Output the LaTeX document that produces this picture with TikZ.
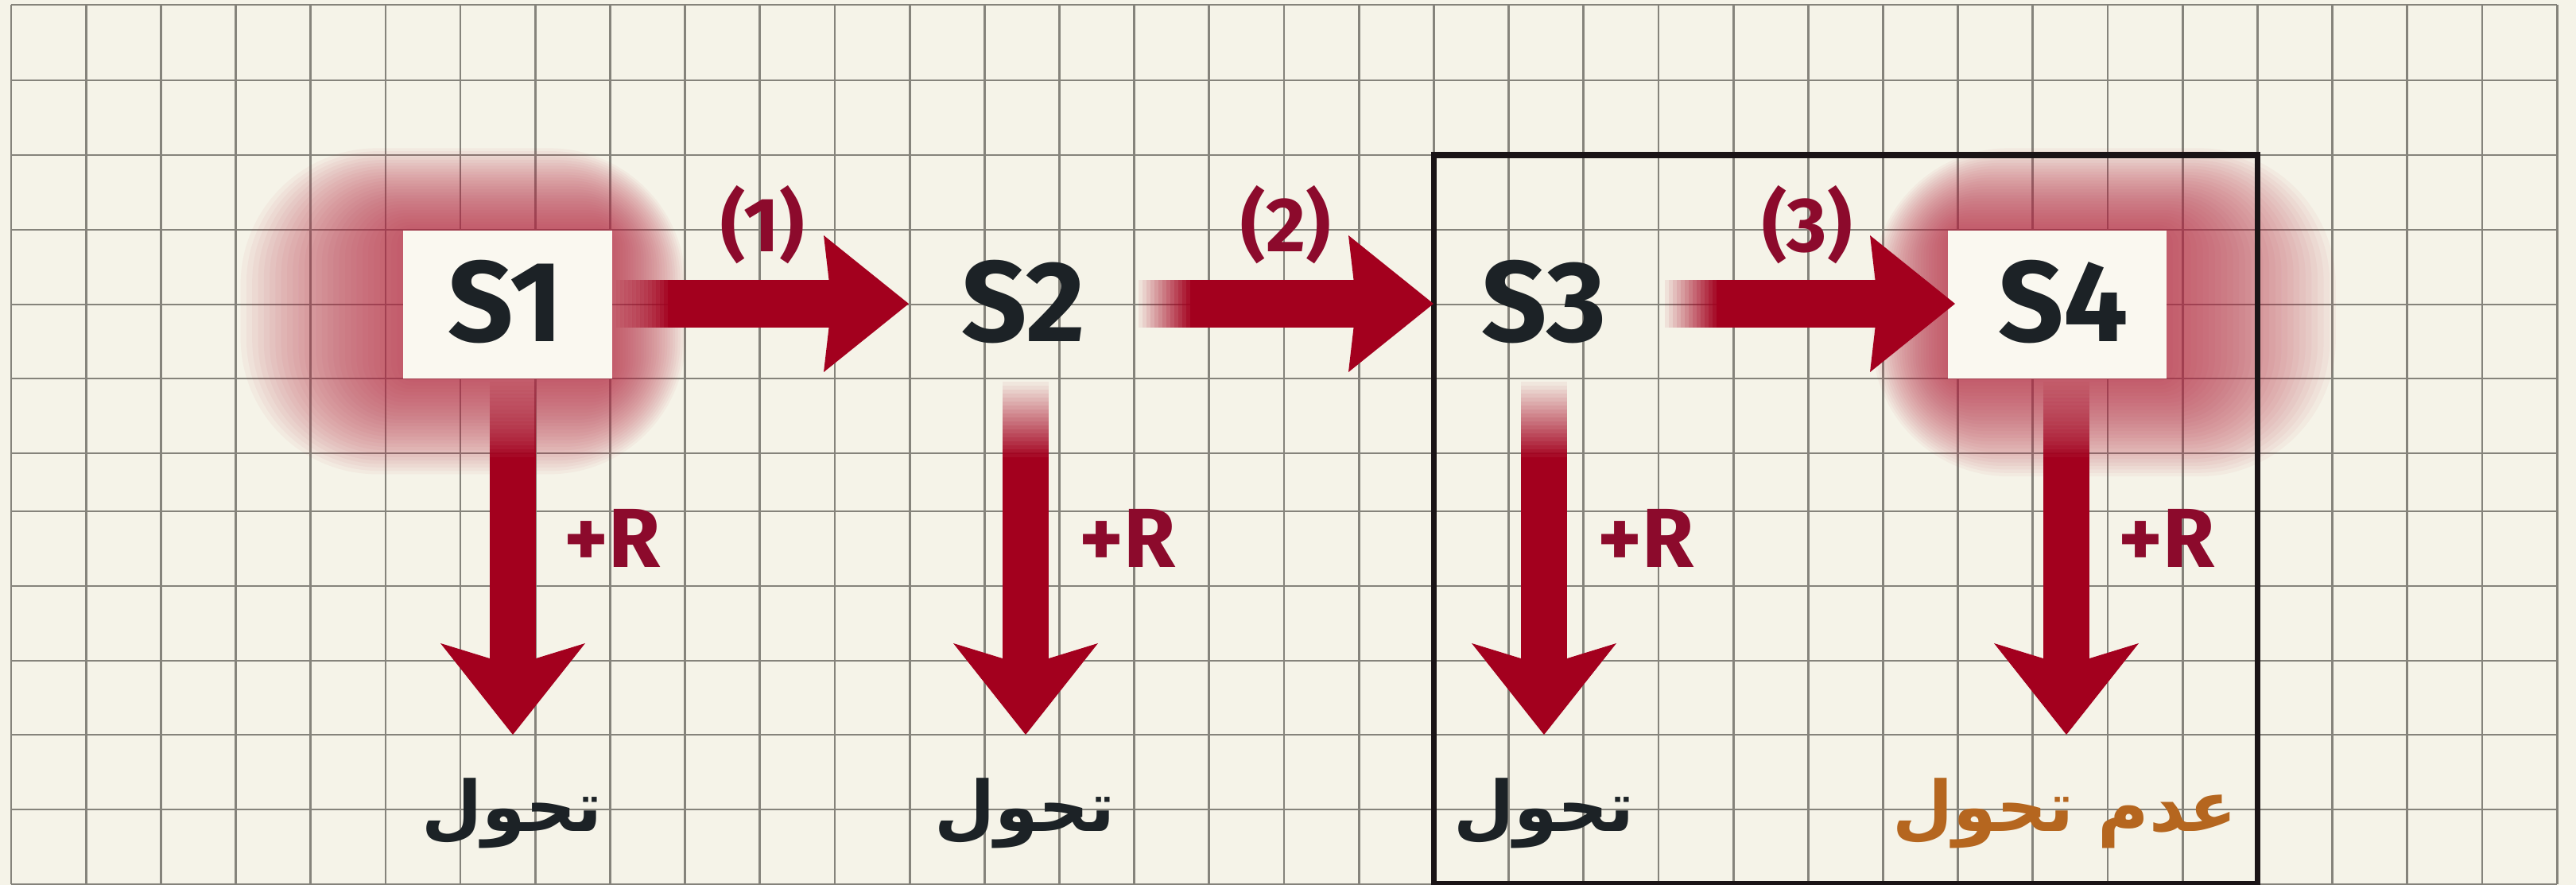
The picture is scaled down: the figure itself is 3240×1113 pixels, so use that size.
\documentclass[tikz,border=0pt]{standalone}
\usepackage{fontspec}
\setmainfont{Fira Sans}
\newfontfamily\arabicfont[Script=Arabic]{DejaVu Sans}
\TeXXeTstate=1
\usetikzlibrary{calc}
\definecolor{bg}{HTML}{F5F3E8}
\definecolor{gridc}{HTML}{85837B}
\definecolor{arrowred}{HTML}{A3001E}
\definecolor{labred}{HTML}{8C0A2C}
\definecolor{ink}{HTML}{1C2226}
\definecolor{orangec}{HTML}{B5661F}
\definecolor{framec}{HTML}{1A1416}
\definecolor{boxc}{HTML}{FAF8F0}
\definecolor{glowc}{HTML}{B82A45}

\newcommand{\blockarrowH}[2]{%
  \foreach \k in {1,...,14}{%
    \pgfmathsetmacro\op{\k/14}%
    \draw[hshaft, draw opacity=\op] ($(#1)+(\k*5-5,0)$) -- ($(#1)+(\k*5,0)$);
  }%
  \draw[hshaft] ($(#1)+(70,0)$) -- ($(#2)+(-85,0)$);
  \fill[arrowred] (#2) -- ($(#2)+(-107,-86)$) -- ($(#2)+(-97,0)$) -- ($(#2)+(-107,86)$) -- cycle;
}
\newcommand{\blockarrowV}[2]{%
  \foreach \k in {1,...,20}{%
    \pgfmathsetmacro\op{\k/20}%
    \draw[vshaft, draw opacity=\op] ($(#1)+(0,\k*5-5)$) -- ($(#1)+(0,\k*5)$);
  }%
  \draw[vshaft] ($(#1)+(0,100)$) -- ($(#2)+(0,-70)$);
  \fill[arrowred] (#2) -- ($(#2)+(-91,-115)$) -- ($(#2)+(0,-87)$) -- ($(#2)+(91,-115)$) -- cycle;
}

\begin{document}
\begin{tikzpicture}[x=0.01cm,y=-0.01cm,
  gridline/.style={draw=gridc, line width=0.8pt},
  hshaft/.style={draw=arrowred, line width=17.07pt},
  vshaft/.style={draw=arrowred, line width=16.5pt},
  statebox/.style={fill=boxc, draw=none, inner sep=0pt},
  statelabel/.style={font=\fontsize{41}{41}\selectfont\bfseries, text=ink, inner sep=0pt, anchor=base},
  steplabel/.style={font=\fontsize{27.5}{27.5}\selectfont\bfseries, text=labred, inner sep=0pt, anchor=base},
  rlabel/.style={font=\fontsize{30}{30}\selectfont\bfseries, text=labred, inner sep=0pt, anchor=base},
  outlabel/.style={font=\arabicfont\bfseries\fontsize{25}{25}\selectfont, text=ink, inner sep=0pt},
  framebox/.style={draw=framec, line width=2pt}
]
\useasboundingbox[fill=bg] (0,0) rectangle (3240,1113);

% grid
\foreach \i in {0,...,34}{
  \draw[gridline] ({14+94.18*\i},6) -- ({14+94.18*\i},1112);
}
\foreach \yy in {6,101,195,289,383,476,570,643,737,831,924,1018,1112}{
  \draw[gridline] (14,\yy) -- (3216,\yy);
}

% glows
\foreach \t in {1,...,28}{
  \pgfmathsetmacro\rc{4+\t*1.6}
  \fill[glowc, opacity=0.045, rounded corners=\rc pt] ({507-7.3*\t},{290-3.7*\t}) rectangle ({770+3.3*\t},{476+4.3*\t});
  \fill[glowc, opacity=0.045, rounded corners=\rc pt] ({2450-3.4*\t},{290-3.7*\t}) rectangle ({2725+7.6*\t},{476+4.4*\t});
}

% boxes behind S1 and S4
\node[statebox, minimum width=263*0.2845pt, minimum height=186*0.2845pt] (B1) at (638.5,383) {};
\node[statebox, minimum width=275*0.2845pt, minimum height=186*0.2845pt] (B4) at (2587.5,383) {};

% frame
\draw[framebox] (1803,195) rectangle (2839,1112);

% state nodes
\node[statelabel] (S1) at (636,430) {S1};
\node[statelabel] (S2) at (1287,430) {S2};
\node[statelabel] (S3) at (1942,430) {S3};
\node[statelabel] (S4) at (2595,430) {S4};

% horizontal arrows
\coordinate (a1s) at (775,382);  \coordinate (a1t) at (1143,382);
\coordinate (a2s) at (1432,382); \coordinate (a2t) at (1803,382);
\coordinate (a3s) at (2094,382); \coordinate (a3t) at (2459,382);
\blockarrowH{a1s}{a1t}
\blockarrowH{a2s}{a2t}
\blockarrowH{a3s}{a3t}

\node[steplabel] (L1) at (959,317) {(1)};
\node[steplabel] (L2) at (1617,317) {(2)};
\node[steplabel] (L3) at (2273,317) {(3)};

% vertical arrows
\coordinate (d1s) at (645,480);  \coordinate (d1t) at (645,924);
\coordinate (d2s) at (1290,480); \coordinate (d2t) at (1290,924);
\coordinate (d3s) at (1942,480); \coordinate (d3t) at (1942,924);
\coordinate (d4s) at (2599,480); \coordinate (d4t) at (2599,924);
\blockarrowV{d1s}{d1t}
\blockarrowV{d2s}{d2t}
\blockarrowV{d3s}{d3t}
\blockarrowV{d4s}{d4t}

\node[rlabel] (R1) at (770,713) {+R};
\node[rlabel] (R2) at (1418,713) {+R};
\node[rlabel] (R3) at (2070,713) {+R};
\node[rlabel] (R4) at (2725,713) {+R};

% outcomes
\node[outlabel] (O1) at (644,1023) {\beginR تحول\endR};
\node[outlabel] (O2) at (1289,1023) {\beginR تحول\endR};
\node[outlabel] (O3) at (1942,1023) {\beginR تحول\endR};
\node[outlabel, text=orangec] (O4) at (2597,1023) {\beginR عدم تحول\endR};
\end{tikzpicture}
\end{document}
